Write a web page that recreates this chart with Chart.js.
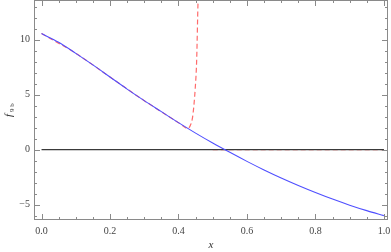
<!DOCTYPE html>
<html>
<head>
<meta charset="utf-8">
<script src="https://cdn.jsdelivr.net/npm/chart.js@4/dist/chart.umd.min.js"></script>
<style>
  html,body{margin:0;padding:0;background:#fff;}
  #wrap{width:391px;height:252px;}
</style>
</head>
<body>
<div id="wrap"><canvas id="c" width="391" height="252"></canvas></div>
<script>
// f_9b curve (blue)
const xs    = [0,0.05,0.1,0.15,0.2,0.25,0.3,0.35,0.4,0.45,0.5,0.55,0.6,0.65,0.7,0.75,0.8,0.85,0.9,0.95,1.0];
const blueY = [10.55,9.75,8.75,7.7,6.6,5.5,4.45,3.45,2.45,1.5,0.6,-0.25,-1.07,-1.85,-2.58,-3.26,-3.9,-4.5,-5.05,-5.55,-6.0];
// dashed red branch: follows blue, then shoots up
const redX1 = [0,0.1,0.2,0.3,0.4,0.428,0.436,0.441,0.445,0.449,0.453,0.457,0.46];
const redY1 = [10.55,8.75,6.6,4.45,2.45,1.92,2.3,2.9,4.0,5.6,8.0,13.3,16];
// dashed red along zero
const redX2 = [0.5,1.0];
const redY2 = [0,0];
const zeroX = [0,1.0];
const zeroY = [0,0];
const xTicks = [0,0.2,0.4,0.6,0.8,1.0];
const yTicks = [-5,0,5,10];

const pts = (a,b)=>a.map((v,i)=>({x:v,y:b[i]}));
const serif = "'Liberation Serif', 'DejaVu Serif', serif";

const frame = {
  id:'frame',
  afterDraw(chart){
    const {ctx, chartArea:a, scales:{x,y}} = chart;
    ctx.save();
    ctx.strokeStyle='#8a8a8a'; ctx.lineWidth=1;
    ctx.strokeRect(a.left+0.5,a.top+0.5,a.right-a.left-1,a.bottom-a.top-1);
    ctx.beginPath();
    for(let v=0; v<=1.0001; v+=0.05){
      const px = Math.round(x.getPixelForValue(v))+0.5;
      const major = Math.abs(v/0.2-Math.round(v/0.2))<1e-6;
      const L = major?6:3;
      ctx.moveTo(px,a.bottom); ctx.lineTo(px,a.bottom-L);
      ctx.moveTo(px,a.top); ctx.lineTo(px,a.top+L);
    }
    for(let v=-6; v<=13; v+=1){
      const py = Math.round(y.getPixelForValue(v))+0.5;
      const L = (v%5===0)?6:3;
      ctx.moveTo(a.left,py); ctx.lineTo(a.left+L,py);
      ctx.moveTo(a.right,py); ctx.lineTo(a.right-L,py);
    }
    ctx.stroke();
    // axis titles
    ctx.fillStyle='#333';
    ctx.font='italic 11px '+serif;
    ctx.textAlign='center'; ctx.textBaseline='middle';
    ctx.fillText('x',(a.left+a.right)/2,245);
    ctx.translate(9,110); ctx.rotate(-Math.PI/2);
    ctx.textAlign='left';
    ctx.font='italic 11px '+serif;
    ctx.fillText('f',-7,0);
    ctx.font='7px '+serif;
    ctx.fillText('9 b',-2,3);
    ctx.restore();
  }
};

new Chart(document.getElementById('c'),{
  type:'scatter',
  data:{datasets:[
    {data:pts(redX2,redY2),showLine:true,borderColor:'#ff6b6b',borderWidth:1.2,borderDash:[5,3],pointRadius:0,order:3},
    {data:pts(zeroX,zeroY),showLine:true,borderColor:'#3a3a3a',borderWidth:1.4,pointRadius:0,order:2},
    {data:pts(redX1,redY1),showLine:true,borderColor:'#ff6b6b',borderWidth:1.2,borderDash:[5,3],pointRadius:0,cubicInterpolationMode:'monotone',order:4},
    {data:pts(xs,blueY),showLine:true,borderColor:'#4f4fff',borderWidth:1.1,pointRadius:0,cubicInterpolationMode:'monotone',order:1}
  ]},
  options:{
    responsive:false,animation:false,
    layout:{padding:{top:0,right:3,left:0,bottom:0}},
    plugins:{legend:{display:false},tooltip:{enabled:false}},
    scales:{
      x:{type:'linear',min:-0.022,max:1.012,
        grid:{display:false,drawTicks:false},border:{display:false},
        afterBuildTicks:s=>{s.ticks=xTicks.map(v=>({value:v}));},
        afterFit:s=>{s.height=32;s.paddingLeft=0;s.paddingRight=0;},
        ticks:{padding:5,maxRotation:0,font:{family:serif,size:10},color:'#444',callback:v=>v.toFixed(1)}},
      y:{type:'linear',min:-6.4,max:13.6,
        grid:{display:false,drawTicks:false},border:{display:false},
        afterBuildTicks:s=>{s.ticks=yTicks.map(v=>({value:v}));},
        afterFit:s=>{s.width=34;s.paddingTop=0;s.paddingBottom=0;},
        ticks:{padding:4,font:{family:serif,size:10},color:'#444',callback:v=>v<0?'\u2212'+Math.abs(v):String(v)}}
    }
  },
  plugins:[frame]
});
</script>
</body>
</html>
